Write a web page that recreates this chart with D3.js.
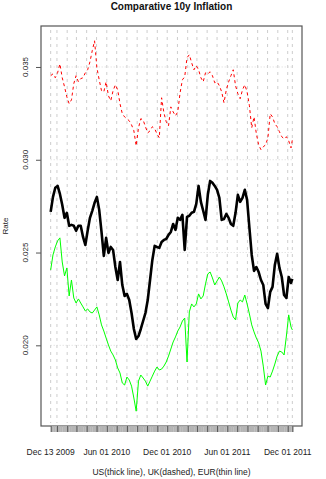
<!DOCTYPE html>
<html>
<head>
<meta charset="utf-8">
<script src="https://cdn.jsdelivr.net/npm/d3@7"></script>
<style>
body { margin: 0; background: #fff; }
svg { display: block; font-family: "Liberation Sans", Arial, sans-serif; }
</style>
</head>
<body>
<div id="chart"></div>
<script>
var dates = [
  "2009-12-13", "2009-12-20", "2009-12-27", "2010-01-03", "2010-01-10", "2010-01-17", "2010-01-24", "2010-01-31",
  "2010-02-07", "2010-02-14", "2010-02-21", "2010-02-28", "2010-03-07", "2010-03-14", "2010-03-21", "2010-03-28",
  "2010-04-04", "2010-04-11", "2010-04-18", "2010-04-25", "2010-05-02", "2010-05-09", "2010-05-16", "2010-05-23",
  "2010-05-30", "2010-06-06", "2010-06-13", "2010-06-20", "2010-06-27", "2010-07-04", "2010-07-11", "2010-07-18",
  "2010-07-25", "2010-08-01", "2010-08-08", "2010-08-15", "2010-08-22", "2010-08-29", "2010-09-05", "2010-09-12",
  "2010-09-19", "2010-09-26", "2010-10-03", "2010-10-10", "2010-10-17", "2010-10-24", "2010-10-31", "2010-11-07",
  "2010-11-14", "2010-11-21", "2010-11-28", "2010-12-05", "2010-12-12", "2010-12-19", "2010-12-26", "2011-01-02",
  "2011-01-09", "2011-01-16", "2011-01-23", "2011-01-30", "2011-02-06", "2011-02-13", "2011-02-20", "2011-02-27",
  "2011-03-06", "2011-03-13", "2011-03-20", "2011-03-27", "2011-04-03", "2011-04-10", "2011-04-17", "2011-04-24",
  "2011-05-01", "2011-05-08", "2011-05-15", "2011-05-22", "2011-05-29", "2011-06-05", "2011-06-12", "2011-06-19",
  "2011-06-26", "2011-07-03", "2011-07-10", "2011-07-17", "2011-07-24", "2011-07-31", "2011-08-07", "2011-08-14",
  "2011-08-21", "2011-08-28", "2011-09-04", "2011-09-11", "2011-09-18", "2011-09-25", "2011-10-02", "2011-10-09",
  "2011-10-16", "2011-10-23", "2011-10-30", "2011-11-06", "2011-11-13", "2011-11-20", "2011-11-27", "2011-12-04",
  "2011-12-11", "2011-12-15"
];

var us = [
  0.02719, 0.02800, 0.02849, 0.02859, 0.02816, 0.02757, 0.02687, 0.02714,
  0.02644, 0.02649, 0.02644, 0.02617, 0.02644, 0.02644, 0.02584, 0.02541,
  0.02617, 0.02687, 0.02725, 0.02768, 0.02800, 0.02730, 0.02611, 0.02482,
  0.02579, 0.02498, 0.02530, 0.02514, 0.02422, 0.02352, 0.02449, 0.02325,
  0.02266, 0.02277, 0.02244, 0.02174, 0.02088, 0.02034, 0.02050, 0.02088,
  0.02131, 0.02174, 0.02244, 0.02352, 0.02460, 0.02536, 0.02530, 0.02525,
  0.02557, 0.02568, 0.02573, 0.02595, 0.02611, 0.02654, 0.02622, 0.02687,
  0.02676, 0.02703, 0.02514, 0.02692, 0.02698, 0.02714, 0.02719, 0.02762,
  0.02859, 0.02773, 0.02725, 0.02676, 0.02811, 0.02886, 0.02876, 0.02859,
  0.02838, 0.02795, 0.02676, 0.02681, 0.02708, 0.02687, 0.02654, 0.02644,
  0.02714, 0.02811, 0.02773, 0.02795, 0.02838, 0.02784, 0.02633, 0.02487,
  0.02401, 0.02422, 0.02395, 0.02352, 0.02325, 0.02223, 0.02201, 0.02288,
  0.02315, 0.02433, 0.02493, 0.02417, 0.02368, 0.02271, 0.02255, 0.02368,
  0.02336, 0.02358
];

var uk = [
  0.03453, 0.03463, 0.03442, 0.03469, 0.03517, 0.03442, 0.03393, 0.03339,
  0.03302, 0.03323, 0.03410, 0.03453, 0.03420, 0.03437, 0.03442, 0.03469,
  0.03485, 0.03528, 0.03588, 0.03641, 0.03496, 0.03431, 0.03372, 0.03366,
  0.03420, 0.03345, 0.03318, 0.03372, 0.03404, 0.03377, 0.03302, 0.03248,
  0.03231, 0.03221, 0.03210, 0.03188, 0.03156, 0.03075, 0.03172, 0.03221,
  0.03215, 0.03178, 0.03145, 0.03156, 0.03178, 0.03167, 0.03140, 0.03118,
  0.03334, 0.03253, 0.03205, 0.03183, 0.03285, 0.03258, 0.03237, 0.03258,
  0.03361, 0.03431, 0.03447, 0.03550, 0.03566, 0.03523, 0.03485, 0.03507,
  0.03485, 0.03442, 0.03420, 0.03469, 0.03463, 0.03474, 0.03453, 0.03415,
  0.03420, 0.03399, 0.03366, 0.03307, 0.03377, 0.03420, 0.03453, 0.03485,
  0.03399, 0.03356, 0.03329, 0.03377, 0.03404, 0.03366, 0.03291, 0.03172,
  0.03231, 0.03140, 0.03080, 0.03054, 0.03070, 0.03080, 0.03118, 0.03248,
  0.03231, 0.03194, 0.03178, 0.03151, 0.03124, 0.03113, 0.03124, 0.03102,
  0.03064, 0.03107
];

var eur = [
  0.02406, 0.02487, 0.02530, 0.02563, 0.02579, 0.02449, 0.02374, 0.02417,
  0.02266, 0.02352, 0.02255, 0.02228, 0.02250, 0.02228, 0.02207, 0.02185,
  0.02196, 0.02180, 0.02174, 0.02190, 0.02207, 0.02164, 0.02110, 0.02077,
  0.02039, 0.02002, 0.01969, 0.01948, 0.01921, 0.01878, 0.01851, 0.01797,
  0.01786, 0.01829, 0.01813, 0.01780, 0.01716, 0.01645, 0.01807, 0.01840,
  0.01824, 0.01807, 0.01780, 0.01807, 0.01834, 0.01861, 0.01883, 0.01867,
  0.01872, 0.01888, 0.01910, 0.01942, 0.01980, 0.02018, 0.02045, 0.02077,
  0.02099, 0.02131, 0.02147, 0.01910, 0.02180, 0.02223, 0.02207, 0.02223,
  0.02277, 0.02250, 0.02266, 0.02331, 0.02385, 0.02395, 0.02363, 0.02325,
  0.02347, 0.02368, 0.02347, 0.02315, 0.02277, 0.02234, 0.02190, 0.02153,
  0.02137, 0.02228, 0.02244, 0.02234, 0.02271, 0.02223, 0.02169, 0.02110,
  0.02072, 0.02039, 0.02013, 0.01969, 0.01888, 0.01786, 0.01834, 0.01829,
  0.01861, 0.01899, 0.01942, 0.01969, 0.01964, 0.01948, 0.02050, 0.02164,
  0.02099, 0.02083
];

var yTicks = [0.020, 0.025, 0.030, 0.035];
var xLabelDates = ["2009-12-13", "2010-06-01", "2010-12-01", "2011-06-01", "2011-12-01"];
var xLabels = ["Dec 13 2009", "Jun 01 2010", "Dec 01 2010", "Jun 01 2011", "Dec 01 2011"];

var W = 326, H = 479;
var box = {left: 41, right: 302, top: 26, bottom: 426};

var parse = d3.timeParse("%Y-%m-%d");
var days = dates.map(parse);

// R style ranges: data extent padded by 4%
var xExt = d3.extent(days);
var xPad = (xExt[1] - xExt[0]) * 0.04;
var x = d3.scaleTime()
    .domain([new Date(+xExt[0] - xPad), new Date(+xExt[1] + xPad)])
    .range([box.left, box.right]);

var yExt = d3.extent(us.concat(uk, eur));
var yPad = (yExt[1] - yExt[0]) * 0.04;
var y = d3.scaleLinear()
    .domain([yExt[0] - yPad, yExt[1] + yPad])
    .range([box.bottom, box.top]);

var svg = d3.select("#chart").append("svg")
    .attr("width", W).attr("height", H);
svg.append("rect").attr("width", W).attr("height", H).attr("fill", "#fff");

// grid
var months = [xExt[0]].concat(d3.timeMonth.range(xExt[0], xExt[1]), [xExt[1]]);
svg.append("g").selectAll("line").data(months).enter().append("line")
    .attr("x1", function (d) { return x(d); }).attr("x2", function (d) { return x(d); })
    .attr("y1", box.top + 4).attr("y2", box.bottom - 3)
    .attr("stroke", "#cdcdcd").attr("stroke-dasharray", "3,4");

svg.append("g").selectAll("line").data(yTicks).enter().append("line")
    .attr("x1", x(xExt[0])).attr("x2", x(xExt[1]))
    .attr("y1", function (d) { return y(d); }).attr("y2", function (d) { return y(d); })
    .attr("stroke", "#d8d8d8").attr("stroke-dasharray", "1,2");

// series
function path(vals) {
    return d3.line()
        .x(function (d, i) { return x(days[i]); })
        .y(function (d) { return y(d); })(vals);
}

svg.append("path").attr("d", path(uk))
    .attr("fill", "none").attr("stroke", "#ff0000").attr("stroke-width", 1)
    .attr("stroke-dasharray", "3,3");
svg.append("path").attr("d", path(eur))
    .attr("fill", "none").attr("stroke", "#00ff00").attr("stroke-width", 1);
svg.append("path").attr("d", path(us))
    .attr("fill", "none").attr("stroke", "#000").attr("stroke-width", 2.6)
    .attr("stroke-linejoin", "round");

// box
svg.append("rect")
    .attr("x", box.left).attr("y", box.top)
    .attr("width", box.right - box.left).attr("height", box.bottom - box.top)
    .attr("fill", "none").attr("stroke", "#555").attr("stroke-width", 1.2);

// x axis: a tick for every trading day, darker ticks at month starts
var tradingDays = d3.timeDay.range(xExt[0], d3.timeDay.offset(xExt[1], 1))
    .filter(function (d) { var w = d.getDay(); return w > 0 && w < 6; });

var gx = svg.append("g").attr("transform", "translate(0," + box.bottom + ")")
    .call(d3.axisBottom(x).tickValues(tradingDays).tickSize(6).tickFormat(""));
gx.select(".domain").remove();
gx.selectAll(".tick line").attr("stroke", "#b4b4b4");

var gm = svg.append("g").attr("transform", "translate(0," + box.bottom + ")")
    .call(d3.axisBottom(x).tickValues(months).tickSize(6).tickFormat(""));
gm.select(".domain").remove();
gm.selectAll(".tick line").attr("stroke", "#555");

svg.append("g").selectAll("text").data(xLabelDates).enter().append("text")
    .attr("x", function (d) { return x(parse(d)); })
    .attr("y", 454.5)
    .attr("text-anchor", "middle")
    .attr("font-size", 8.5).attr("fill", "#222")
    .text(function (d, i) { return xLabels[i]; });

// y axis
var gy = svg.append("g").attr("transform", "translate(" + box.left + ",0)")
    .call(d3.axisLeft(y).tickValues(yTicks).tickSize(5).tickFormat(""));
gy.select(".domain").remove();
gy.selectAll(".tick line").attr("stroke", "#555");

svg.append("g").selectAll("text").data(yTicks).enter().append("text")
    .attr("transform", function (d) { return "translate(28.3," + y(d) + ") rotate(-90)"; })
    .attr("text-anchor", "middle")
    .attr("font-size", 8).attr("fill", "#222")
    .text(d3.format(".3f"));

// titles
svg.append("text")
    .attr("x", (box.left + box.right) / 2).attr("y", 10.2)
    .attr("text-anchor", "middle")
    .attr("font-size", 10).attr("font-weight", "bold").attr("fill", "#111")
    .text("Comparative 10y Inflation");

svg.append("text")
    .attr("transform", "translate(8.3," + (box.top + box.bottom) / 2 + ") rotate(-90)")
    .attr("text-anchor", "middle")
    .attr("font-size", 8).attr("fill", "#222")
    .text("Rate");

svg.append("text")
    .attr("x", (box.left + box.right) / 2).attr("y", 474.5)
    .attr("text-anchor", "middle")
    .attr("font-size", 8.5).attr("fill", "#222")
    .text("US(thick line), UK(dashed), EUR(thin line)");
</script>
</body>
</html>
